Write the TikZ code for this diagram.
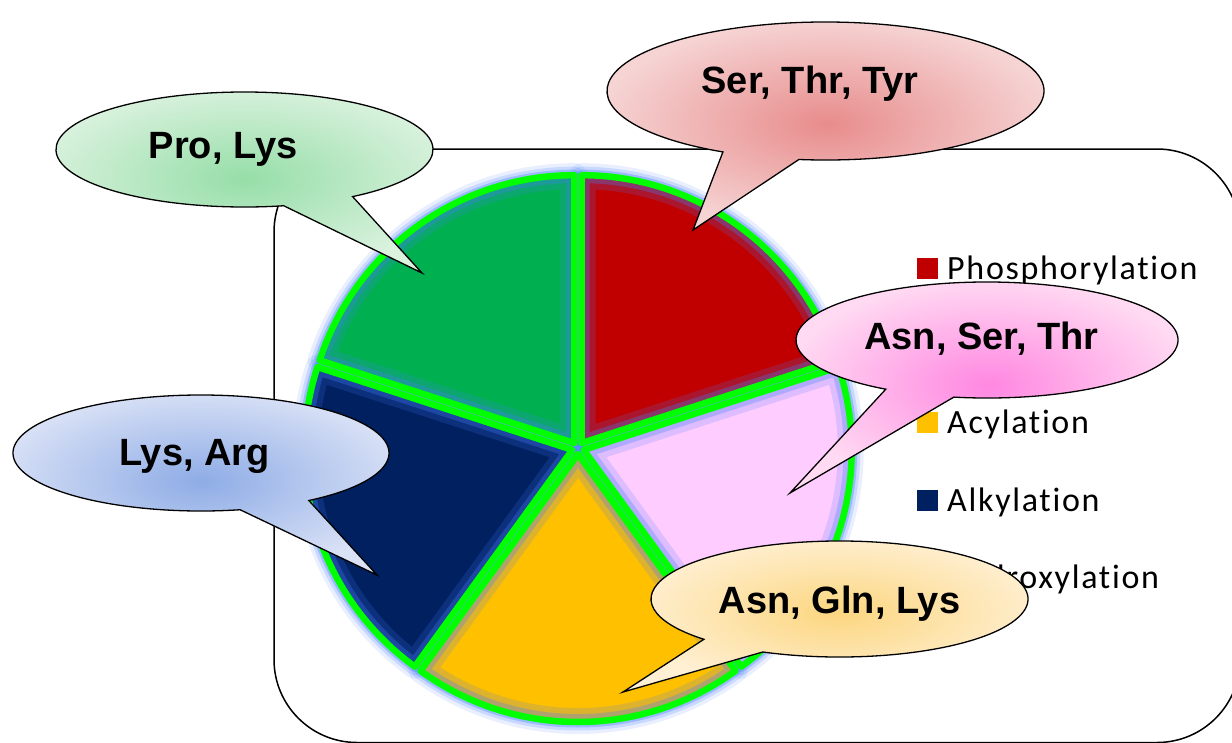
\documentclass[tikz,border=0pt]{standalone}
\usepackage{fontspec}
\setmainfont{Liberation Sans}
\newfontfamily\legfont[LetterSpace=5,Ligatures={NoCommon,NoRare}]{Carlito}
\usetikzlibrary{shadings}
\definecolor{sred}{HTML}{C00000}
\definecolor{spink}{HTML}{FFCCFF}
\definecolor{syellow}{HTML}{FFC000}
\definecolor{snavy}{HTML}{002060}
\definecolor{sgreen}{HTML}{00B050}
\definecolor{sborder}{HTML}{00FF00}
\definecolor{glowc}{RGB}{70,125,255}
\definecolor{gIn}{RGB}{150,222,168}\definecolor{gOut}{RGB}{218,242,222}
\definecolor{rIn}{RGB}{232,140,140}\definecolor{rOut}{RGB}{246,212,212}
\definecolor{pIn}{RGB}{255,135,225}\definecolor{pOut}{RGB}{255,218,242}
\definecolor{bIn}{RGB}{142,172,230}\definecolor{bOut}{RGB}{218,226,246}
\definecolor{yIn}{RGB}{252,214,128}\definecolor{yOut}{RGB}{255,240,212}
\begin{document}
\begin{tikzpicture}[x=1pt,y=-1pt,
  callout/.style 2 args={draw=black, line width=1.3, line join=miter, shade, inner color=#1, outer color=#2},
  calltext/.style={inner sep=0, anchor=base, font=\bfseries\fontsize{38}{44}\selectfont},
  legtext/.style={inner sep=0, anchor=base west, font=\legfont\fontsize{34}{40}\selectfont},
  frame/.style={draw=black, line width=1.5, rounded corners=83}]
\useasboundingbox (0,0) rectangle (1232,742);

% frame
\draw[frame] (274,149) rectangle (1240,742.5);

% legend
\fill[sred] (917,258) rectangle (938,279);
\node[legtext] (lphos) at (947,279) {Phosphorylation};
\fill[syellow] (917,412) rectangle (938,433);
\node[legtext] (lacyl) at (947,433) {Acylation};
\fill[snavy] (917,490) rectangle (938,511);
\node[legtext] (lalky) at (947,511) {Alkylation};
\node[legtext] (lhydr) at (947,588) {Hydroxylation};

% pie: outer glow
\foreach \c/\a/\b in {sred/-90/-18, spink/-18/54, syellow/54/126, snavy/126/198, sgreen/198/270} {
  \begin{scope}[shift={(578,448)}, shift={({(\a+\b)/2}:6)}]
    \draw[glowc, line width=24, draw opacity=0.12, line join=round] (0,0) -- (\a:268) arc[start angle=\a, end angle=\b, radius=268] -- cycle;
    \draw[glowc, line width=17, draw opacity=0.2, line join=round] (0,0) -- (\a:268) arc[start angle=\a, end angle=\b, radius=268] -- cycle;
    \draw[glowc, line width=11, draw opacity=0.35, line join=round] (0,0) -- (\a:268) arc[start angle=\a, end angle=\b, radius=268] -- cycle;
  \end{scope}
}
% pie: fills with inner glow
\foreach \c/\a/\b in {sred/-90/-18, spink/-18/54, syellow/54/126, snavy/126/198, sgreen/198/270} {
  \begin{scope}[shift={(578,448)}, shift={({(\a+\b)/2}:6)}]
    \fill[\c] (0,0) -- (\a:268) arc[start angle=\a, end angle=\b, radius=268] -- cycle;
    \begin{scope}
      \clip (0,0) -- (\a:268) arc[start angle=\a, end angle=\b, radius=268] -- cycle;
      \draw[glowc, line width=28, draw opacity=0.18, line join=round] (0,0) -- (\a:268) arc[start angle=\a, end angle=\b, radius=268] -- cycle;
      \draw[glowc, line width=16, draw opacity=0.3, line join=round] (0,0) -- (\a:268) arc[start angle=\a, end angle=\b, radius=268] -- cycle;
    \end{scope}
  \end{scope}
}
% pie: borders
\foreach \c/\a/\b in {sred/-90/-18, spink/-18/54, syellow/54/126, snavy/126/198, sgreen/198/270} {
  \begin{scope}[shift={(578,448)}, shift={({(\a+\b)/2}:6)}]
    \draw[sborder, line width=6.5, line join=round] (0,0) -- (\a:268) arc[start angle=\a, end angle=\b, radius=268] -- cycle;
  \end{scope}
}

% callouts
\begin{scope}[shift={(244.5,149.5)}]
  \path[callout={gIn}{gOut}] (55:188.5 and 57.5) arc[start angle=55, end angle=-282, x radius=188.5, y radius=57.5] -- (177.5,123.5) -- cycle;
\end{scope}
\node[calltext] (tpro) at (223,158) {Pro, Lys};

\begin{scope}[shift={(825.5,91)}]
  \path[callout={rIn}{rOut}] (97:218.5 and 69) arc[start angle=97, end angle=-242, x radius=218.5, y radius=69] -- (-132.5,139) -- cycle;
\end{scope}
\node[calltext] (tser) at (810,93) {Ser, Thr, Tyr};

\begin{scope}[shift={(987,340)}]
  \path[callout={pIn}{pOut}] (100:191 and 58) arc[start angle=100, end angle=-238, x radius=191, y radius=58] -- (-197,153) -- cycle;
\end{scope}
\node[calltext] (tasn) at (981.5,349) {Asn, Ser, Thr};

\begin{scope}[shift={(201,453)}]
  \path[callout={bIn}{bOut}] (55:188 and 58) arc[start angle=55, end angle=-282, x radius=188, y radius=58] -- (176,122) -- cycle;
\end{scope}
\node[calltext] (tlys) at (194.5,465) {Lys, Arg};

\begin{scope}[shift={(839.5,599)}]
  \path[callout={yIn}{yOut}] (114:188.5 and 58) arc[start angle=114, end angle=-224, x radius=188.5, y radius=58] -- (-216.5,93) -- cycle;
\end{scope}
\node[calltext] (tgln) at (839.5,613) {Asn, Gln, Lys};
\end{tikzpicture}
\end{document}
